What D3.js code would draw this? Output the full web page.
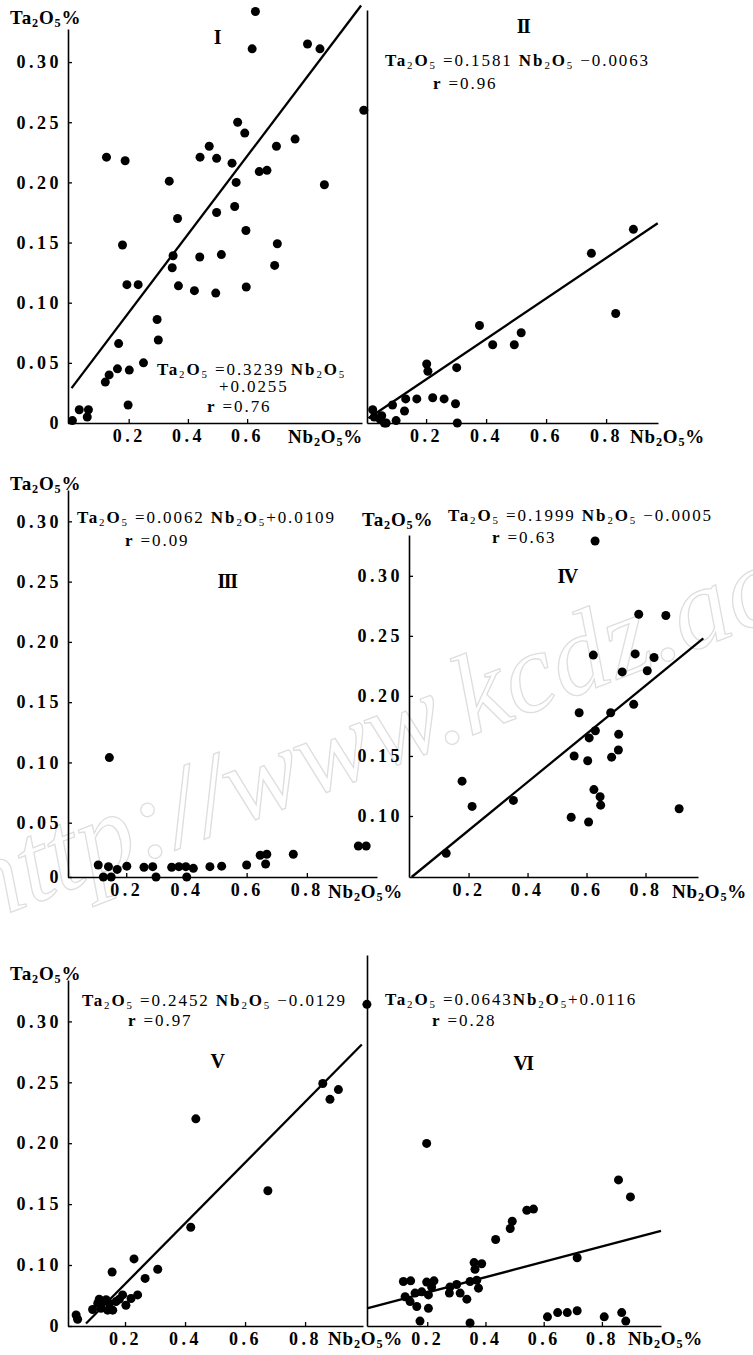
<!DOCTYPE html>
<html>
<head>
<meta charset="utf-8">
<script src="https://cdn.jsdelivr.net/npm/d3@7"></script>
<style>
  body { margin: 0; background: #fff; }
  svg text { font-family: "Liberation Serif", "Times New Roman", serif; fill: #000; }
</style>
</head>
<body>
<svg width="753" height="1355"></svg>
<script>
// Nb2O5 % , Ta2O5 %
const pointsI = [
  [0.628, 0.342], [0.617, 0.311], [0.804, 0.315], [0.846, 0.311], [0.994, 0.260],
  [0.568, 0.250], [0.592, 0.241], [0.472, 0.230], [0.441, 0.221], [0.497, 0.220],
  [0.699, 0.230], [0.762, 0.236], [0.549, 0.216], [0.641, 0.209], [0.667, 0.210],
  [0.563, 0.200], [0.861, 0.198], [0.125, 0.221], [0.188, 0.218], [0.337, 0.201],
  [0.365, 0.170], [0.497, 0.175], [0.558, 0.180], [0.596, 0.160], [0.702, 0.149],
  [0.179, 0.148], [0.350, 0.139], [0.440, 0.138], [0.513, 0.140], [0.347, 0.129],
  [0.693, 0.131], [0.194, 0.115], [0.232, 0.115], [0.368, 0.114], [0.422, 0.110],
  [0.494, 0.108], [0.597, 0.113], [0.296, 0.086], [0.300, 0.069], [0.166, 0.066],
  [0.250, 0.050], [0.162, 0.045], [0.202, 0.044], [0.134, 0.040], [0.121, 0.034],
  [0.198, 0.015], [0.033, 0.011], [0.064, 0.011], [0.060, 0.005], [0.010, 0.002]
];
const pointsII = [
  [0.891, 0.161], [0.751, 0.141], [0.832, 0.091], [0.378, 0.081], [0.422, 0.065],
  [0.494, 0.065], [0.517, 0.075], [0.302, 0.046], [0.202, 0.049], [0.206, 0.043],
  [0.222, 0.021], [0.260, 0.020], [0.298, 0.016], [0.304, 0.000], [0.169, 0.020],
  [0.132, 0.020], [0.128, 0.010], [0.088, 0.015], [0.022, 0.011], [0.027, 0.005],
  [0.052, 0.006], [0.067, 0.000], [0.100, 0.002], [0.047, 0.003], [0.061, 0.000]
];
const pointsIII = [
  [0.144, 0.104], [0.971, 0.0285], [0.997, 0.0285], [0.107, 0.011], [0.141, 0.0095],
  [0.170, 0.007], [0.202, 0.010], [0.259, 0.009], [0.288, 0.0095], [0.351, 0.009],
  [0.375, 0.0095], [0.398, 0.0095], [0.423, 0.008], [0.478, 0.0095], [0.517, 0.010],
  [0.600, 0.011], [0.645, 0.020], [0.667, 0.021], [0.663, 0.012], [0.755, 0.021],
  [0.124, 0.000], [0.150, 0.000], [0.299, 0.000], [0.401, 0.000]
];
const pointsIV = [
  [0.629, 0.329], [0.777, 0.268], [0.869, 0.267], [0.623, 0.234], [0.765, 0.235],
  [0.829, 0.232], [0.721, 0.220], [0.806, 0.221], [0.760, 0.193], [0.575, 0.186],
  [0.682, 0.186], [0.630, 0.171], [0.709, 0.168], [0.609, 0.165], [0.558, 0.150],
  [0.685, 0.149], [0.708, 0.155], [0.604, 0.146], [0.178, 0.129], [0.212, 0.108],
  [0.352, 0.113], [0.625, 0.122], [0.646, 0.116], [0.648, 0.109], [0.548, 0.099],
  [0.607, 0.095], [0.914, 0.106], [0.124, 0.069]
];
const pointsV = [
  [1.006, 0.314], [0.859, 0.249], [0.883, 0.236], [0.911, 0.244], [0.436, 0.220],
  [0.676, 0.161], [0.419, 0.131], [0.230, 0.105], [0.157, 0.0885], [0.309, 0.093],
  [0.267, 0.078], [0.037, 0.018], [0.042, 0.011], [0.092, 0.027], [0.109, 0.037],
  [0.114, 0.044], [0.126, 0.040], [0.137, 0.043], [0.148, 0.037], [0.142, 0.026],
  [0.120, 0.029], [0.170, 0.040], [0.192, 0.051], [0.203, 0.034], [0.220, 0.045],
  [0.242, 0.051], [0.159, 0.026], [0.181, 0.044]
];
const pointsVI = [
  [0.198, 0.200], [0.857, 0.170], [0.898, 0.156], [0.542, 0.145], [0.565, 0.146],
  [0.492, 0.136], [0.485, 0.130], [0.435, 0.121], [0.361, 0.102], [0.387, 0.101],
  [0.364, 0.093], [0.715, 0.106], [0.118, 0.073], [0.143, 0.074], [0.198, 0.072],
  [0.223, 0.074], [0.124, 0.048], [0.141, 0.040], [0.158, 0.054], [0.181, 0.056],
  [0.164, 0.032], [0.204, 0.051], [0.215, 0.064], [0.276, 0.054], [0.301, 0.068],
  [0.278, 0.064], [0.313, 0.054], [0.336, 0.044], [0.347, 0.073], [0.370, 0.075],
  [0.376, 0.062], [0.204, 0.029], [0.175, 0.008], [0.347, 0.005], [0.613, 0.015],
  [0.648, 0.022], [0.681, 0.022], [0.715, 0.025], [0.808, 0.015], [0.868, 0.022],
  [0.882, 0.008]
];

// regression lines, end points as printed
const fitI = [[0.007, 0.029], [0.985, 0.347]];
const fitII = [[0.008, 0.004], [0.972, 0.166]];
const fitIV = [[0.007, 0.0492], [0.996, 0.248]];
const fitV = [[0.070, 0.004], [0.989, 0.281]];
const fitVI = [[-0.007, 0.029], [1.003, 0.128]];

// tick values
const yTicksFull = [0, 0.05, 0.10, 0.15, 0.20, 0.25, 0.30];
const yTicksIV = [0.10, 0.15, 0.20, 0.25, 0.30];
const yTicksV = [0, 0.10, 0.15, 0.20, 0.25, 0.30];
const xTicks = [0.2, 0.4, 0.6, 0.8];
const xTicksI = [0.2, 0.4, 0.6];

// texts
const romans = ["I", "II", "III", "IV", "V", "VI"];
const eqI = ["Ta_2O_5 =0.3239 Nb_2O_5", "+0.0255", "r =0.76"];
const eqII = ["Ta_2O_5 =0.1581 Nb_2O_5 \u22120.0063", "r =0.96"];
const eqIII = ["Ta_2O_5 =0.0062 Nb_2O_5+0.0109", "r =0.09"];
const eqIV = ["Ta_2O_5 =0.1999 Nb_2O_5 \u22120.0005", "r =0.63"];
const eqV = ["Ta_2O_5 =0.2452 Nb_2O_5 \u22120.0129", "r =0.97"];
const eqVI = ["Ta_2O_5 =0.0643Nb_2O_5+0.0116", "r =0.28"];
const yTitle = "Ta_2O_5%";
const xTitle = "Nb_2O_5%";

function chem(sel, str, x, y, size, allBold, spacing) {
  const t = sel.append("text")
    .attr("x", x).attr("y", y)
    .attr("font-size", size)
    .attr("letter-spacing", spacing || 0);
  const parts = str.match(/_\d|[A-Za-z%]+|[^A-Za-z_%]+/g);
  let down = false;
  parts.forEach(p => {
    const s = t.append("tspan");
    if (p[0] === "_") {
      s.text(p[1])
        .attr("font-size", size * 0.64)
        .attr("font-weight", allBold ? "bold" : "normal")
        .attr("dy", down ? 0 : size * 0.18);
      down = true;
    } else {
      if (down) { s.attr("dy", -size * 0.18); down = false; }
      s.text(p).attr("font-weight", allBold || /[A-Za-z%]/.test(p) ? "bold" : "normal");
    }
  });
  return t;
}

function draw() {
  const svg = d3.select("svg");

  // faint watermark of the source
  svg.append("text")
    .text("http://www.kcdz.ac.cn")
    .attr("transform", "translate(-22,925) rotate(-21)")
    .attr("font-size", 114)
    .attr("font-style", "italic")
    .attr("letter-spacing", 0)
    .style("fill", "none")
    .attr("stroke", "#dedede")
    .attr("stroke-width", 1.3);

  const yLow = d3.scaleLinear().domain([0, 0.1, 0.334]).range([1326, 1265, 980]);
  const yLowVI = d3.scaleLinear().domain([0, 0.1, 0.355]).range([1326, 1265, 955]);

  const panels = [
    {
      pts: pointsI, fit: fitI, eq: eqI, roman: romans[0],
      x: d3.scaleLinear().domain([-0.005, 0.988]).range([68, 362]),
      y: d3.scaleLinear().domain([0, 0.3275]).range([423, 29]),
      xt: xTicksI, yt: yTicksFull,
      eqPos: [[157, 375], [219, 392], [207, 412]], romanPos: [217, 44],
      yTitlePos: [10, 24], xTitlePos: [288, 443]
    },
    {
      pts: pointsII, fit: fitII, eq: eqII, roman: romans[1],
      x: d3.scaleLinear().domain([0.003, 0.973]).range([367, 658]),
      y: d3.scaleLinear().domain([0, 0.3433]).range([423, 10]),
      xt: xTicks, yt: [],
      eqPos: [[385, 66], [433, 89]], romanPos: [523, 33],
      xTitlePos: [630, 443]
    },
    {
      pts: pointsIII, fit: null, eq: eqIII, roman: romans[2],
      x: d3.scaleLinear().domain([0.0066, 1.033]).range([68, 377]),
      y: d3.scaleLinear().domain([0, 0.05, 0.326]).range([877, 822.7, 490]),
      xt: xTicks, yt: yTicksFull,
      eqPos: [[77, 523], [125, 546]], romanPos: [227, 588],
      yTitlePos: [10, 490], xTitlePos: [328, 898]
    },
    {
      pts: pointsIV, fit: fitIV, eq: eqIV, roman: romans[3],
      x: d3.scaleLinear().domain([-0.002, 0.978]).range([409, 698]),
      y: d3.scaleLinear().domain([0.0492, 0.334]).range([877, 535]),
      xt: xTicks, yt: yTicksIV,
      eqPos: [[448, 521], [492, 543]], romanPos: [567, 583],
      yTitlePos: [362, 526], xTitlePos: [672, 898]
    },
    {
      pts: pointsV, fit: fitV, eq: eqV, roman: romans[4],
      x: d3.scaleLinear().domain([0.01, 0.993]).range([68, 363]),
      y: yLow,
      xt: xTicks, yt: yTicksV,
      eqPos: [[82, 1006], [128, 1026]], romanPos: [217, 1068],
      yTitlePos: [10, 980], xTitlePos: [328, 1345]
    },
    {
      pts: pointsVI, fit: fitVI, eq: eqVI, roman: romans[5],
      x: d3.scaleLinear().domain([-0.007, 1.003]).range([367, 661]),
      y: yLowVI,
      xt: xTicks, yt: [],
      eqPos: [[385, 1005], [432, 1026]], romanPos: [523, 1070],
      xTitlePos: [628, 1345]
    }
  ];

  const yFmt = v => v === 0 ? "0" : d3.format(".2f")(v);

  panels.forEach(p => {
    const g = svg.append("g");
    const yBase = p.y.range()[0];
    const xLeft = p.x.range()[0];

    const xAxis = g.append("g")
      .attr("transform", `translate(0,${yBase})`)
      .call(d3.axisBottom(p.x).tickValues(p.xt).tickSize(-4).tickSizeOuter(0)
        .tickPadding(6).tickFormat(d3.format(".1f")));
    const yAxis = g.append("g")
      .attr("transform", `translate(${xLeft},0)`)
      .call(d3.axisLeft(p.y).tickValues(p.yt).tickSize(-4).tickSizeOuter(0)
        .tickPadding(6).tickFormat(yFmt));

    [xAxis, yAxis].forEach(a => {
      a.select(".domain").attr("stroke", "#000").attr("stroke-width", 1.6);
      a.selectAll(".tick line").attr("stroke", "#000").attr("stroke-width", 1.3);
      a.selectAll(".tick text")
        .attr("font-family", "'Liberation Serif', serif")
        .attr("font-size", 18)
        .attr("font-weight", "bold")
        .attr("letter-spacing", 3.5);
    });

    if (p.fit) {
      g.append("path")
        .datum(p.fit)
        .attr("d", d3.line().x(d => p.x(d[0])).y(d => p.y(d[1])))
        .attr("fill", "none")
        .attr("stroke", "#000")
        .attr("stroke-width", 2.3);
    }

    g.selectAll("circle.pt")
      .data(p.pts)
      .join("circle")
      .attr("class", "pt")
      .attr("cx", d => p.x(d[0]))
      .attr("cy", d => p.y(d[1]))
      .attr("r", 4.5)
      .attr("fill", "#000");

    p.eq.forEach((line, i) => chem(g, line, p.eqPos[i][0], p.eqPos[i][1], 17, false, 1.9));

    g.append("text")
      .text(p.roman)
      .attr("x", p.romanPos[0])
      .attr("y", p.romanPos[1])
      .attr("text-anchor", "middle")
      .attr("font-size", 20)
      .attr("font-weight", "bold")
      .attr("letter-spacing", -1.5);

    if (p.yTitlePos) chem(g, yTitle, p.yTitlePos[0], p.yTitlePos[1], 19, true, 0.8);
    chem(g, xTitle, p.xTitlePos[0], p.xTitlePos[1], 19, true, 0.8);
  });
}

window.onload = draw;
</script>
</body>
</html>
